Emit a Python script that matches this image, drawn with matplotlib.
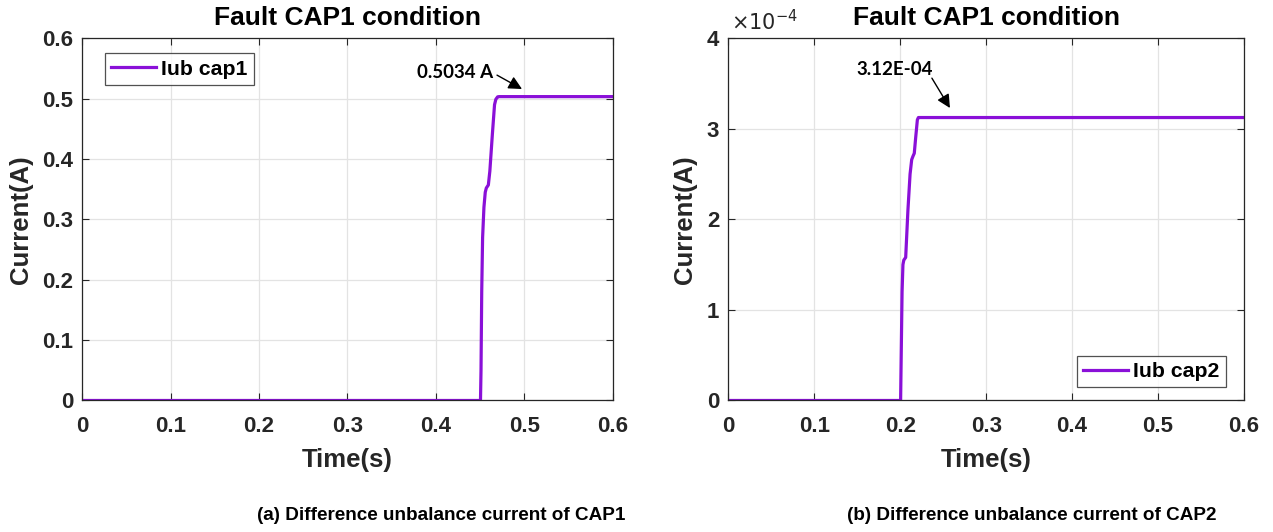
import matplotlib
matplotlib.use("Agg")
import matplotlib.pyplot as plt

plt.rcParams['font.family'] = ['Liberation Sans', 'DejaVu Sans']

# Data
t1 = [0, 0.4506, 0.4512, 0.4520, 0.4530, 0.4545, 0.4560, 0.4572, 0.4595, 0.4612, 0.4640, 0.4665, 0.4680, 0.4700, 0.4716, 0.6]
i1 = [0, 0, 0.05, 0.18, 0.27, 0.32, 0.345, 0.352, 0.357, 0.38, 0.44, 0.49, 0.499, 0.503, 0.5034, 0.5034]
t2 = [0, 0.2005, 0.2012, 0.2022, 0.2032, 0.2042, 0.2064, 0.2090, 0.2115, 0.2134, 0.2150, 0.2164, 0.2180, 0.2200, 0.2212, 0.6]
i2 = [0, 0, 0.5, 1.2, 1.50, 1.55, 1.58, 2.1, 2.5, 2.66, 2.70, 2.73, 2.90, 3.10, 3.125, 3.125]   # x1e-4

xticks = [0, 0.1, 0.2, 0.3, 0.4, 0.5, 0.6]
xtick_labels = ['0', '0.1', '0.2', '0.3', '0.4', '0.5', '0.6']
yticks1 = [0, 0.1, 0.2, 0.3, 0.4, 0.5, 0.6]
ytick_labels1 = ['0', '0.1', '0.2', '0.3', '0.4', '0.5', '0.6']
yticks2 = [0, 1, 2, 3, 4]
ytick_labels2 = ['0', '1', '2', '3', '4']

purple = '#8A10D8'
dark = '#262626'
fig = plt.figure(figsize=(12.73, 5.32), dpi=100)
ax1 = fig.add_axes([0.06465, 0.2472, 0.4165, 0.6808])
ax2 = fig.add_axes([0.5721, 0.2472, 0.4051, 0.6808])

def style(ax, yt, ytl, ylim):
    ax.set_xlim(0, 0.6)
    ax.set_ylim(*ylim)
    ax.set_xticks(xticks)
    ax.set_xticklabels(xtick_labels)
    ax.set_yticks(yt)
    ax.set_yticklabels(ytl)
    ax.grid(True, color='#e3e3e3', linewidth=0.9)
    ax.set_axisbelow(True)
    ax.tick_params(direction='in', top=True, right=True, length=5, width=0.8,
                   labelsize=16, colors=dark)
    ax.tick_params(axis='x', pad=11)
    ax.tick_params(axis='y', pad=6.5)
    for lab in ax.get_xticklabels() + ax.get_yticklabels():
        lab.set_fontweight('bold')
    for s in ax.spines.values():
        s.set_color(dark)
        s.set_linewidth(0.9)
    ax.set_xlabel('Time(s)', fontsize=18.5, fontweight='bold', color=dark, labelpad=8.3)
    ax.set_ylabel('Current(A)', fontsize=18.5, fontweight='bold', color=dark, labelpad=7)
    ax.set_title('Fault CAP1 condition', fontsize=19, fontweight='bold', pad=9.6)

def legend(ax, **kw):
    leg = ax.legend(fontsize=15.3, fancybox=False, edgecolor=dark, handlelength=2.1,
                    borderpad=0.3, handletextpad=0.25, borderaxespad=0, **kw)
    for tx in leg.get_texts():
        tx.set_fontweight('bold')
    leg.get_frame().set_linewidth(0.9)

ax1.plot(t1, i1, color=purple, linewidth=2.3, label='Iub cap1')
style(ax1, yticks1, ytick_labels1, (0, 0.6))
legend(ax1, loc='upper left', bbox_to_anchor=(0.043, 0.959))

ax1.text(0.4648, 0.544, '0.5034 A', ha='right', va='center', fontsize=13.5, fontweight='bold',
         family=['Lato', 'DejaVu Sans'])
ax1.annotate('', xy=(0.4976, 0.516), xytext=(0.4693, 0.539),
             arrowprops=dict(arrowstyle='-|>', color='black', lw=1.0, mutation_scale=20, shrinkA=0, shrinkB=0))

ax2.plot(t2, i2, color=purple, linewidth=2.3, label='Iub cap2')
style(ax2, yticks2, ytick_labels2, (0, 4))
legend(ax2, loc='lower right', bbox_to_anchor=(0.965, 0.036))

ax2.text(0.1934, 3.66, '3.12E-04', ha='center', va='center', fontsize=13.5, fontweight='bold',
         family=['Lato', 'DejaVu Sans'])
ax2.annotate('', xy=(0.2579, 3.23), xytext=(0.2369, 3.56),
             arrowprops=dict(arrowstyle='-|>', color='black', lw=1.0, mutation_scale=20, shrinkA=0, shrinkB=0))
ax2.text(0.006, 1.01, r'$\times10^{-4}$', transform=ax2.transAxes, fontsize=15, color=dark,
         ha='left', va='bottom', family=['DejaVu Sans'])

fig.text(441/1273, 1 - 516/532, '(a) Difference unbalance current of CAP1', ha='center', va='center',
         fontsize=13.6, fontweight='bold')
fig.text(1032/1273, 1 - 516/532, '(b) Difference unbalance current of CAP2', ha='center', va='center',
         fontsize=13.6, fontweight='bold')

fig.savefig('out.png', dpi=100, facecolor='white')
